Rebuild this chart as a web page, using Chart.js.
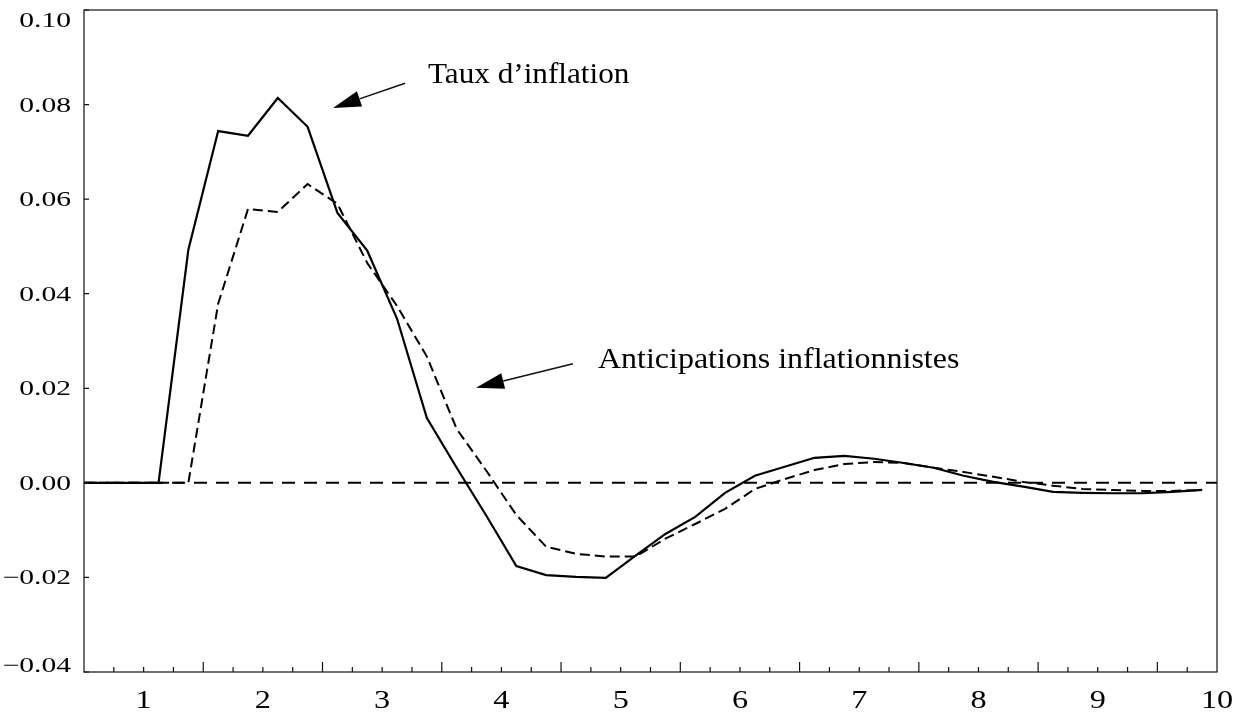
<!DOCTYPE html>
<html>
<head>
<meta charset="utf-8">
<script src="https://cdn.jsdelivr.net/npm/chart.js@4.4.1/dist/chart.umd.min.js"></script>
<style>
  html, body { margin: 0; padding: 0; background: #fff; }
</style>
</head>
<body>
<canvas id="chart" width="1245" height="713"></canvas>
<script>
// quarters, expressed in years (4 per unit)
var quarters = [0.375, 0.625, 0.875, 1.125, 1.375, 1.625, 1.875, 2.125, 2.375, 2.625,
  2.875, 3.125, 3.375, 3.625, 3.875, 4.125, 4.375, 4.625, 4.875, 5.125,
  5.375, 5.625, 5.875, 6.125, 6.375, 6.625, 6.875, 7.125, 7.375, 7.625,
  7.875, 8.125, 8.375, 8.625, 8.875, 9.125, 9.375, 9.625, 9.875];
// inflation rate response
var inflation = [0, 0, 0, 0, 0.0493, 0.0744, 0.0734, 0.0814, 0.0753, 0.0571,
  0.0491, 0.0347, 0.0137, 0.0032, -0.0070, -0.0176, -0.0195, -0.0199, -0.0201, -0.0154,
  -0.0108, -0.0072, -0.0021, 0.0015, 0.0034, 0.0053, 0.0057, 0.0051, 0.0042, 0.0032,
  0.0015, 0.0002, -0.0008, -0.0019, -0.0021, -0.0022, -0.0022, -0.0019, -0.0015];
// inflation expectations
var expectations = [0, 0, 0, 0, 0, 0.0379, 0.0579, 0.0573, 0.0632, 0.0590,
  0.0465, 0.0374, 0.0267, 0.0114, 0.0025, -0.0068, -0.0135, -0.0150, -0.0156, -0.0156,
  -0.0118, -0.0087, -0.0055, -0.0013, 0.0008, 0.0027, 0.0040, 0.0044, 0.0042, 0.0032,
  0.0023, 0.0013, 0.0002, -0.0006, -0.0013, -0.0015, -0.0017, -0.0017, -0.0015];
// axis labels
var xLabels = [1, 2, 3, 4, 5, 6, 7, 8, 9, 10];
var yTicks = [-0.04, -0.02, 0, 0.02, 0.04, 0.06, 0.08, 0.10];

// text + arrow callouts, placed in data units
var notes = [
  { text: 'Taux d\u2019inflation', x: 3.384, y: 0.0846, width: 202, tip: [2.588, 0.0793], tail: [3.192, 0.0845] },
  { text: 'Anticipations inflationnistes', x: 4.81, y: 0.0243, width: 361, tip: [3.787, 0.0201], tail: [4.60, 0.0252] }
];

function pts(ys) {
  return quarters.map(function (x, i) { return { x: x, y: ys[i] }; });
}

function fmt(v) {
  return v.toFixed(2).replace('-', '\u2212');
}

// horizontal factor so that the ink of s spans w pixels
function stretch(ctx, s, w) {
  var m = ctx.measureText(s);
  return w / (m.actualBoundingBoxLeft + m.actualBoundingBoxRight);
}

function drawText(ctx, s, x, y, k) {
  ctx.save();
  ctx.translate(x, y);
  ctx.scale(k, 1);
  ctx.fillText(s, 0, 0);
  ctx.restore();
}

var frame = {
  id: 'frame',
  afterDraw: function (chart) {
    var ctx = chart.ctx, a = chart.chartArea;
    var xs = chart.scales.x, ys = chart.scales.y;
    ctx.save();
    ctx.strokeStyle = '#111';
    ctx.lineWidth = 1.2;
    ctx.strokeRect(a.left, a.top, a.right - a.left, a.bottom - a.top);

    // inward ticks: y at each label, x every quarter with longer ones at the half years
    ctx.beginPath();
    yTicks.forEach(function (v) {
      var py = ys.getPixelForValue(v);
      ctx.moveTo(a.left, py);
      ctx.lineTo(a.left + 5, py);
    });
    for (var i = 1; i < 38; i++) {
      var px = xs.getPixelForValue(0.5 + i * 0.25);
      ctx.moveTo(px, a.bottom);
      ctx.lineTo(px, a.bottom - (i % 4 === 0 ? 10 : 5));
    }
    ctx.stroke();

    ctx.fillStyle = '#000';
    ctx.textBaseline = 'alphabetic';

    ctx.font = '21px "Liberation Serif"';
    ctx.textAlign = 'right';
    var ky = stretch(ctx, '0.10', 51);
    yTicks.forEach(function (v) {
      var py = Math.min(Math.max(ys.getPixelForValue(v) + 7, a.top + 17), a.bottom);
      drawText(ctx, fmt(v), a.left - 13, py, ky);
    });

    ctx.font = '25px "Liberation Serif"';
    ctx.textAlign = 'center';
    var kx = stretch(ctx, '10', 29);
    xLabels.forEach(function (v) {
      drawText(ctx, String(v), xs.getPixelForValue(v), a.bottom + 36, kx);
    });

    // callouts
    ctx.font = '29px "Liberation Serif"';
    ctx.textAlign = 'left';
    ctx.lineWidth = 1.5;
    notes.forEach(function (n) {
      drawText(ctx, n.text, xs.getPixelForValue(n.x), ys.getPixelForValue(n.y), stretch(ctx, n.text, n.width));
      var tx = xs.getPixelForValue(n.tip[0]), ty = ys.getPixelForValue(n.tip[1]);
      var sx = xs.getPixelForValue(n.tail[0]), sy = ys.getPixelForValue(n.tail[1]);
      var len = Math.hypot(sx - tx, sy - ty);
      var ux = (sx - tx) / len, uy = (sy - ty) / len;
      var bx = tx + ux * 28, by = ty + uy * 28;
      ctx.beginPath();
      ctx.moveTo(sx, sy);
      ctx.lineTo(bx, by);
      ctx.stroke();
      ctx.beginPath();
      ctx.moveTo(tx, ty);
      ctx.lineTo(bx - uy * 8, by + ux * 8);
      ctx.lineTo(bx + uy * 8, by - ux * 8);
      ctx.closePath();
      ctx.fill();
    });
    ctx.restore();
  }
};

new Chart(document.getElementById('chart'), {
  type: 'line',
  data: {
    datasets: [
      {
        data: [{ x: 0.5, y: 0 }, { x: 10, y: 0 }],
        borderColor: '#000',
        borderWidth: 2,
        borderDash: [13, 9]
      },
      {
        label: 'Anticipations inflationnistes',
        data: pts(expectations),
        borderColor: '#000',
        borderWidth: 2,
        borderDash: [10, 5]
      },
      {
        label: 'Taux d\u2019inflation',
        data: pts(inflation),
        borderColor: '#000',
        borderWidth: 2.2
      }
    ]
  },
  options: {
    responsive: false,
    animation: false,
    elements: { point: { radius: 0 }, line: { tension: 0, fill: false } },
    layout: { padding: { left: 84, right: 28, top: 10, bottom: 41 } },
    plugins: { legend: { display: false }, tooltip: { enabled: false } },
    scales: {
      x: { type: 'linear', min: 0.5, max: 10, display: false },
      y: { min: -0.04, max: 0.10, display: false }
    }
  },
  plugins: [frame]
});
</script>
</body>
</html>
